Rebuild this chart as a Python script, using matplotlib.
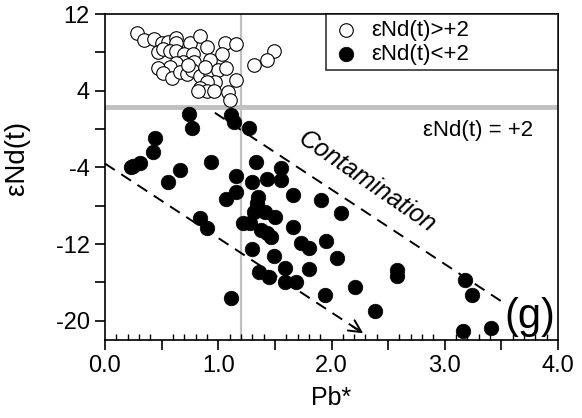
import numpy as np
import matplotlib
matplotlib.use("Agg")
import matplotlib.pyplot as plt
from matplotlib.ticker import MultipleLocator, FuncFormatter

# samples with eNd(t) > +2 (open circles)
pb_high = [0.28, 0.34, 0.43, 0.50, 0.56, 0.63, 0.63, 0.75, 0.84, 0.90, 1.06, 1.16,
           1.03, 1.49, 1.43, 1.32, 0.47, 0.51, 0.57, 0.63, 0.70, 0.78, 0.93, 0.69,
           0.79, 0.63, 0.57, 0.47, 0.51, 0.59, 0.66, 0.72, 0.77, 0.84, 0.93, 1.00,
           1.07, 0.97, 0.90, 0.84, 0.90, 0.96, 0.82, 1.16, 1.09, 1.10, 0.73, 0.88]
end_high = [10.0, 9.3, 9.36, 8.95, 9.1, 9.47, 8.95, 8.95, 9.7, 8.6, 9.0, 8.87,
            7.8, 8.18, 7.2, 6.7, 8.07, 8.3, 8.1, 8.1, 7.8, 7.8, 7.2, 7.0,
            7.0, 6.9, 6.5, 6.34, 5.8, 5.3, 6.0, 5.7, 6.2, 5.5, 5.8, 6.2,
            6.34, 4.95, 4.95, 4.25, 4.0, 4.0, 4.0, 5.1, 3.9, 3.0, 6.7, 6.5]

# samples with eNd(t) < +2 (filled circles)
pb_low = [0.74, 0.77, 1.11, 1.14, 1.27, 0.44, 0.42, 0.31, 0.25, 0.23, 0.94, 0.66,
          0.56, 1.33, 1.16, 1.16, 1.07, 1.30, 1.43, 1.55, 1.55, 1.66, 1.91, 2.08,
          1.35, 1.34, 0.84, 1.34, 1.32, 1.41, 1.50, 0.90, 1.22, 1.28, 1.38, 1.43,
          1.47, 1.66, 1.73, 1.80, 1.95, 2.05, 1.30, 1.49, 1.59, 1.80, 1.36, 1.45,
          1.59, 1.69, 1.94, 2.21, 2.58, 2.58, 2.38, 1.11, 3.18, 3.24, 3.16, 3.41]
end_low = [1.58, 0.09, 1.47, 0.77, 0.09, -0.96, -2.35, -3.56, -3.84, -4.0, -3.4, -4.26,
           -5.48, -3.4, -4.9, -6.52, -7.28, -5.48, -5.2, -4.1, -5.3, -6.87, -7.4, -8.77,
           -7.04, -8.08, -9.3, -7.7, -8.6, -8.6, -9.2, -10.3, -9.75, -9.75, -10.5, -10.86,
           -11.28, -10.2, -11.9, -12.4, -11.63, -13.46, -12.5, -13.2, -14.5, -14.6, -14.86, -15.45,
           -16.0, -15.9, -17.3, -16.5, -14.7, -15.3, -18.96, -17.57, -15.7, -17.3, -21.1, -20.8]

nd_limit = 2.3        # grey horizontal reference line
pb_limit = 1.2        # grey vertical reference line
upper_trend_x = [0.97, 3.53]
upper_trend_y = [1.7, -18.2]
lower_trend_x = [0.0, 2.28]
lower_trend_y = [-3.6, -21.3]

plt.rcParams['font.family'] = ['Liberation Sans', 'DejaVu Sans']
plt.rcParams['font.size'] = 17

fig = plt.figure(figsize=(5.82, 4.18), dpi=100)
ax = fig.add_axes([0.1804, 0.1866, 0.7784, 0.7799])

ax.axhline(nd_limit, color="#c0c0c0", lw=3.5, zorder=1)
ax.axvline(pb_limit, color="#c0c0c0", lw=1.6, zorder=1)

ax.plot(upper_trend_x, upper_trend_y, color="k", lw=1.4, dashes=(6, 4), zorder=2)
ax.plot(lower_trend_x, lower_trend_y, color="k", lw=1.4, dashes=(6, 4), zorder=2)
# arrow head on the lower trend
ax.annotate("", xy=(lower_trend_x[1], lower_trend_y[1]),
            xytext=(lower_trend_x[1] - 0.1, lower_trend_y[1] + 0.1 * 7.76),
            arrowprops=dict(arrowstyle="->", lw=1.4, color="k", mutation_scale=22,
                            shrinkA=0, shrinkB=0))

ax.scatter(pb_high, end_high, s=95, facecolor="white", edgecolor="k", lw=0.8,
           zorder=3, label="\u03b5Nd(t)>+2")
ax.scatter(pb_low, end_low, s=110, facecolor="k", edgecolor="k", lw=0.5,
           zorder=3, label="\u03b5Nd(t)<+2")

ax.text(2.31, -5.5, "Contamination", rotation=-34.5, style="italic", fontsize=18,
        ha="center", va="center")
ax.text(3.29, -0.2, "\u03b5Nd(t) = +2", fontsize=16, ha="center", va="center")
ax.text(3.75, -19.6, "(g)", fontsize=30, ha="center", va="center")

ax.set_xlim(0, 4.0)
ax.set_ylim(-22, 12)

ax.xaxis.set_major_locator(MultipleLocator(0.5))
ax.xaxis.set_minor_locator(MultipleLocator(0.1))
ax.xaxis.set_major_formatter(FuncFormatter(lambda v, p: "%.1f" % v if abs(v - round(v)) < 1e-6 else ""))
ax.yaxis.set_major_locator(MultipleLocator(4))
ax.yaxis.set_major_formatter(FuncFormatter(lambda v, p: "%d" % v if int(round(v)) % 8 == 4 else ""))
ax.tick_params(axis="x", which="major", direction="out", length=7, width=1.2, pad=4)
ax.tick_params(axis="x", which="minor", direction="in", length=4, width=1.0)
ax.tick_params(axis="y", which="major", direction="out", length=7, width=1.2, pad=4)
ax.tick_params(top=False, right=False)
for s in ax.spines.values():
    s.set_linewidth(1.2)

ax.set_xlabel("Pb*", labelpad=6, fontsize=18)
ax.set_ylabel("\u03b5Nd(t)", fontsize=20)
ax.yaxis.set_label_coords(-0.165, 0.56)

leg = ax.legend(loc="upper right", fontsize=16, frameon=True, fancybox=False,
                bbox_to_anchor=(0.488, 0.0, 0.512, 1.0), mode="expand",
                borderaxespad=0, handletextpad=0.5, borderpad=0.25,
                labelspacing=0.15, handlelength=1.3)
leg.get_frame().set_edgecolor("k")
leg.get_frame().set_linewidth(1.2)

fig.savefig("out.png", dpi=100)
